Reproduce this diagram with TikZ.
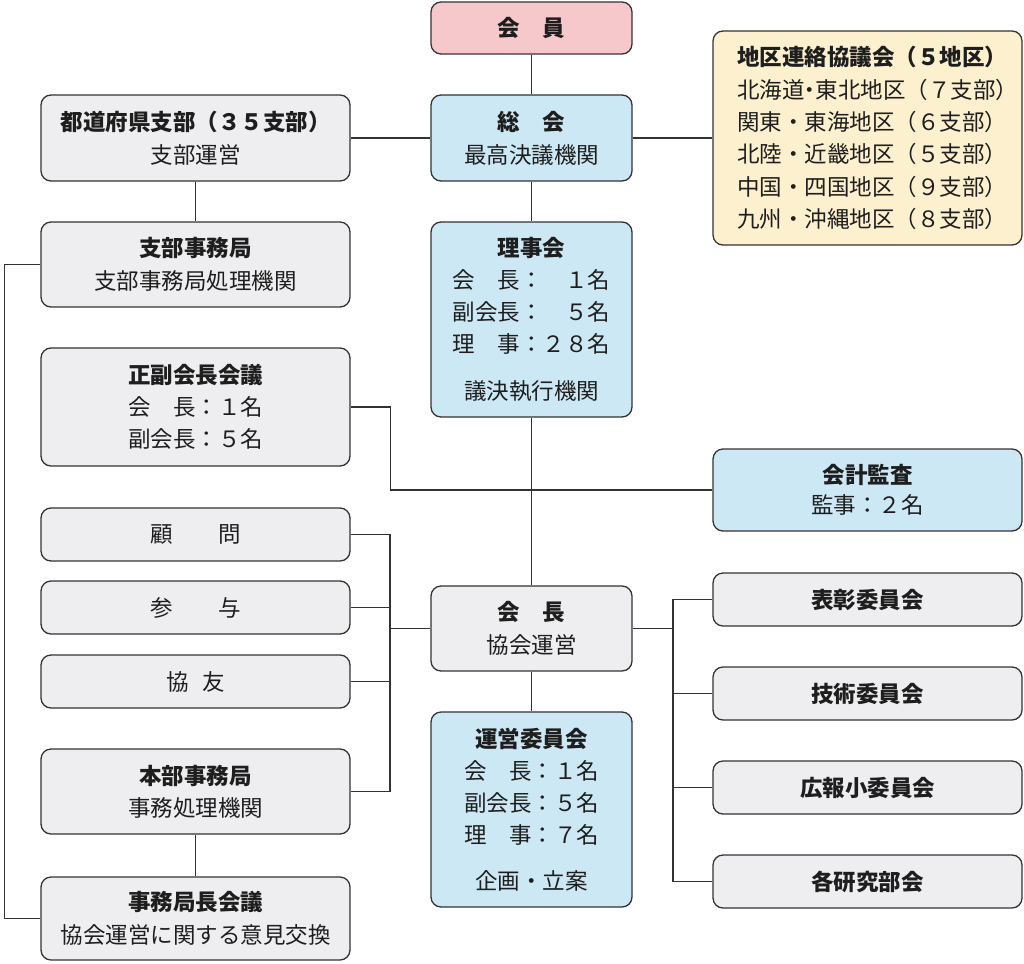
\documentclass[tikz,border=0pt]{standalone}
\usepackage{fontspec}
\setmainfont{Noto Sans CJK JP}
\definecolor{linec}{HTML}{333333}
\definecolor{textc}{HTML}{1E1E1E}
\definecolor{pinkc}{HTML}{F6C8CC}
\definecolor{bluec}{HTML}{CDE8F5}
\definecolor{creamc}{HTML}{FDF0CE}
\definecolor{grayc}{HTML}{EEEEF1}
\begin{document}
\begin{tikzpicture}[x=1pt,y=-1pt,
  box/.style={draw=linec, line width=1.3pt, rounded corners=10pt, inner sep=0pt,
    align=center, text=textc, font=\fontsize{22.5}{33}\selectfont},
  midbox/.style={box, minimum width=201pt},
  sidebox/.style={box, minimum width=309pt},
  pinkbox/.style={fill=pinkc},
  bluebox/.style={fill=bluec},
  creambox/.style={fill=creamc},
  graybox/.style={fill=grayc},
  conn/.style={draw=linec, line width=1.3pt}
]
\useasboundingbox (0,0) rectangle (1024,963);

% centre column
\node[midbox, pinkbox, minimum height=52pt] (kaiin) at (531.5,28) {\bfseries 会　員};
\node[midbox, bluebox, minimum height=86pt] (soukai) at (531.5,138) {\bfseries 総　会\\最高決議機関};
\node[midbox, bluebox, minimum height=195pt, font=\fontsize{22.5}{32}\selectfont] (rijikai) at (531.5,319.5)
  {\bfseries 理事会\\会　長：　１名\\副会長：　５名\\理　事：２８名\\[15pt]議決執行機関};
\node[midbox, graybox, minimum height=85pt] (kaicho) at (531.5,628.5) {\bfseries 会　長\\協会運営};
\node[midbox, bluebox, minimum height=195pt, font=\fontsize{22.5}{32}\selectfont] (unei) at (531.5,809.5)
  {\bfseries 運営委員会\\会　長：１名\\副会長：５名\\理　事：７名\\[14pt]企画・立案};

% right column
\node[sidebox, creambox, minimum height=214pt, font=\fontsize{22.5}{32.3}\selectfont] (chiku) at (867.5,138)
  {\parbox{261pt}{\raggedright {\bfseries 地区連絡協議会（５地区）}\\
   北海道\kern-.25em・\kern-.25em東北地区（７支部）\\
   関東・東海地区（６支部）\\
   北陸・近畿地区（５支部）\\
   中国・四国地区（９支部）\\
   九州・沖縄地区（８支部）}};
\node[sidebox, bluebox, minimum height=82pt, font=\fontsize{22.5}{30}\selectfont] (kaikei) at (867.5,490) {\bfseries 会計監査\\監事：２名};
\node[sidebox, graybox, minimum height=53pt] (hyosho) at (867.5,599.5) {\bfseries 表彰委員会};
\node[sidebox, graybox, minimum height=53pt] (gijutsu) at (867.5,693.5) {\bfseries 技術委員会};
\node[sidebox, graybox, minimum height=53pt] (koho) at (867.5,787.5) {\bfseries 広報小委員会};
\node[sidebox, graybox, minimum height=53pt] (kenkyu) at (867.5,881.5) {\bfseries 各研究部会};

% left column
\node[sidebox, graybox, minimum height=86pt] (todofuken) at (195.5,138) {\bfseries 都道府県支部（３５支部）\\支部運営};
\node[sidebox, graybox, minimum height=85pt] (shibujim) at (195.5,264.5) {\bfseries 支部事務局\\支部事務局処理機関};
\node[sidebox, graybox, minimum height=118pt, font=\fontsize{22.5}{32}\selectfont] (seifuku) at (195.5,407)
  {\bfseries 正副会長会議\\会　長：１名\\副会長：５名};
\node[sidebox, graybox, minimum height=53pt] (komon) at (195.5,534.5) {顧　　問};
\node[sidebox, graybox, minimum height=53pt] (sanyo) at (195.5,607.5) {参　　与};
\node[sidebox, graybox, minimum height=53pt] (kyoyu) at (195.5,681.5) {協\hspace{0.62em}友};
\node[sidebox, graybox, minimum height=85pt, font=\fontsize{22.5}{32}\selectfont] (honbu) at (195.5,791.5) {\bfseries 本部事務局\\事務処理機関};
\node[sidebox, graybox, minimum height=83pt] (jimuchou) at (195.5,918.5) {\bfseries 事務局長会議\\協会運営に関する意見交換};

% junctions
\coordinate (busL) at (390,628.5);
\coordinate (busR) at (673,628.5);

% connectors
\draw[conn] (kaiin) -- (soukai);
\draw[conn] (todofuken) -- (soukai);
\draw[conn] (soukai) -- (chiku);
\draw[conn] (soukai) -- (rijikai);
\draw[conn] (todofuken) -- (shibujim);
\draw[conn] (shibujim.west) -- ++(-36,0) |- (jimuchou.west);
\draw[conn] (rijikai) -- (kaicho);
\draw[conn] (seifuku.east) -- ++(40,0) |- (kaikei.west);
\draw[conn] (komon.east) -- (komon.east -| busL) |- (honbu.east);
\draw[conn] (sanyo.east) -- (sanyo.east -| busL);
\draw[conn] (kyoyu.east) -- (kyoyu.east -| busL);
\draw[conn] (busL) -- (kaicho.west);
\draw[conn] (kaicho.east) -- (busR);
\draw[conn] (hyosho.west) -- (hyosho.west -| busR) -- (kenkyu.west -| busR) -- (kenkyu.west);
\draw[conn] (gijutsu.west) -- (gijutsu.west -| busR);
\draw[conn] (koho.west) -- (koho.west -| busR);
\draw[conn] (kaicho) -- (unei);
\draw[conn] (honbu) -- (jimuchou);
\end{tikzpicture}
\end{document}
